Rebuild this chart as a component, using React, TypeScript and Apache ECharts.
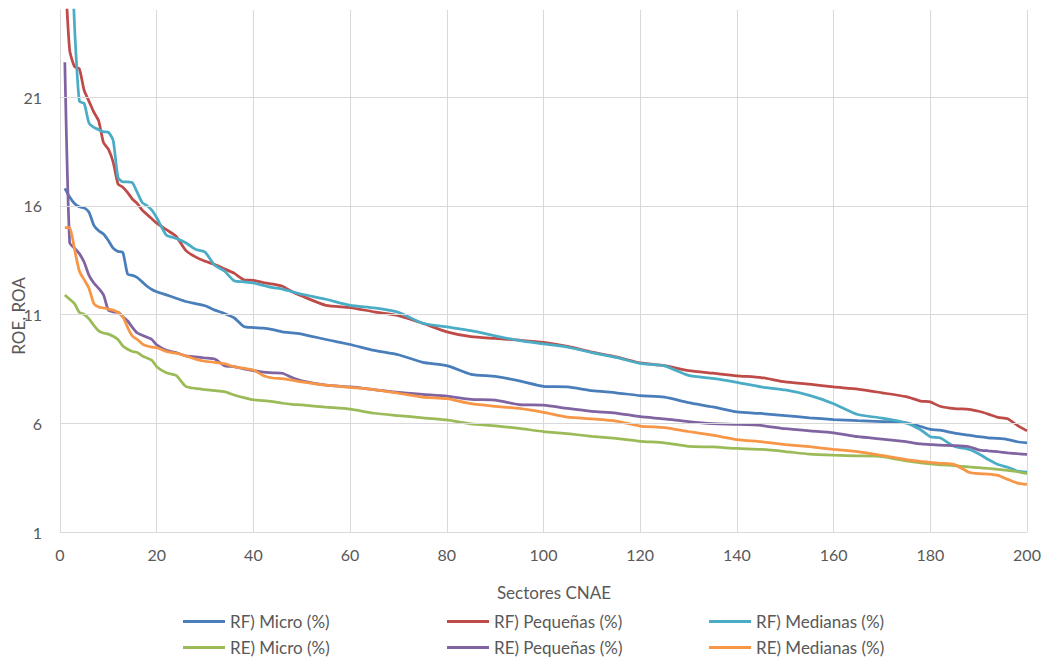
import React, { useEffect, useRef } from "react";
import * as echarts from "echarts";

const sectors = [1,2,3,4,5,6,7,8,9,10,11,12,13,14,15,16,17,18,19,20,22,24,26,28,30,32,34,36,38,40,42,44,46,48,50,55,60,65,70,75,80,85,90,95,100,105,110,115,120,125,130,135,140,145,150,155,160,165,170,175,178,180,182,185,188,190,192,194,196,198,200];

const rfMicro = [16.8,16.4,16.1,15.95,15.9,15.7,15.1,14.85,14.7,14.4,14.05,13.9,13.85,12.85,12.8,12.7,12.5,12.3,12.15,12.05,11.9,11.75,11.6,11.5,11.4,11.2,11.05,10.85,10.45,10.4,10.37,10.3,10.2,10.15,10.1,9.85,9.62,9.35,9.15,8.8,8.65,8.25,8.15,7.95,7.7,7.67,7.5,7.4,7.27,7.2,6.95,6.75,6.52,6.45,6.35,6.25,6.17,6.12,6.08,6.02,5.85,5.72,5.68,5.55,5.45,5.38,5.33,5.3,5.25,5.15,5.1];

const rfPequenas = [27,23.15,22.4,22.3,21.3,20.8,20.3,19.9,18.9,18.6,18.0,17.0,16.85,16.6,16.3,16.1,15.8,15.6,15.4,15.2,14.9,14.6,13.95,13.65,13.45,13.3,13.1,12.9,12.6,12.57,12.47,12.4,12.3,12.05,11.85,11.42,11.32,11.12,10.95,10.6,10.2,9.98,9.9,9.82,9.72,9.53,9.27,9.05,8.78,8.65,8.42,8.3,8.18,8.1,7.9,7.8,7.67,7.57,7.4,7.22,7.02,6.98,6.78,6.67,6.64,6.55,6.42,6.27,6.21,5.9,5.65];

const rfMedianas = [35,30,24.3,20.8,20.7,19.8,19.6,19.5,19.4,19.38,19.0,17.3,17.1,17.1,17.05,16.6,16.15,16.0,15.8,15.45,14.65,14.5,14.3,14.0,13.87,13.26,13.0,12.55,12.5,12.45,12.34,12.24,12.17,12.05,11.93,11.7,11.42,11.3,11.1,10.6,10.43,10.26,10.02,9.8,9.65,9.5,9.25,9.03,8.75,8.64,8.2,8.06,7.88,7.67,7.53,7.28,6.9,6.4,6.24,6.02,5.7,5.38,5.33,4.93,4.8,4.6,4.33,4.1,3.98,3.8,3.75];

const reMicro = [11.9,11.7,11.5,11.1,11.0,10.8,10.5,10.25,10.15,10.1,10.0,9.85,9.55,9.4,9.3,9.25,9.1,9.0,8.9,8.6,8.32,8.2,7.7,7.6,7.55,7.5,7.45,7.3,7.18,7.08,7.04,6.99,6.92,6.87,6.84,6.74,6.65,6.46,6.35,6.25,6.15,5.97,5.88,5.76,5.62,5.52,5.4,5.3,5.17,5.1,4.94,4.91,4.84,4.8,4.7,4.58,4.53,4.5,4.47,4.27,4.18,4.13,4.09,4.05,3.99,3.96,3.92,3.88,3.83,3.77,3.68];

const rePequenas = [22.6,14.3,14.05,13.8,13.4,12.8,12.45,12.2,11.9,11.2,11.12,11.1,10.9,10.7,10.4,10.15,10.05,9.95,9.85,9.6,9.35,9.25,9.1,9.05,9.0,8.95,8.65,8.6,8.5,8.42,8.35,8.32,8.3,8.1,7.95,7.75,7.67,7.55,7.42,7.33,7.25,7.1,7.06,6.86,6.83,6.68,6.55,6.47,6.3,6.2,6.07,5.98,5.95,5.9,5.75,5.65,5.56,5.38,5.27,5.15,5.05,5.02,4.99,4.97,4.92,4.78,4.73,4.69,4.64,4.6,4.57];

const reMedianas = [15.0,15.0,14.0,13.0,12.6,12.2,11.5,11.35,11.3,11.25,11.2,11.1,10.9,10.4,10.0,9.85,9.65,9.55,9.5,9.48,9.3,9.22,9.1,8.95,8.85,8.8,8.74,8.6,8.53,8.45,8.2,8.08,8.05,7.98,7.9,7.75,7.65,7.55,7.38,7.2,7.13,6.9,6.78,6.68,6.5,6.28,6.2,6.1,5.87,5.8,5.62,5.45,5.25,5.15,5.02,4.92,4.8,4.7,4.52,4.33,4.25,4.2,4.16,4.1,3.75,3.68,3.66,3.6,3.42,3.25,3.19];

const yTicks = [6, 11, 16, 21];

const seriesDefs = [
  { name: "RF) Micro (%)", values: rfMicro, color: "#4A7EBB" },
  { name: "RF) Pequeñas (%)", values: rfPequenas, color: "#BE4B48" },
  { name: "RF) Medianas (%)", values: rfMedianas, color: "#4BACC6" },
  { name: "RE) Micro (%)", values: reMicro, color: "#9BBB59" },
  { name: "RE) Pequeñas (%)", values: rePequenas, color: "#8064A2" },
  { name: "RE) Medianas (%)", values: reMedianas, color: "#F79646" },
];

const FONT = "Lato, 'Open Sans', sans-serif";
const TEXT_COLOR = "#595959";
const GRID_COLOR = "#d9d9d9";

const legendCols = [183, 447, 709];
const legendRows = [613, 639];

export default function App() {
  const ref = useRef<HTMLDivElement>(null);
  useEffect(() => {
    if (!ref.current) return;
    const chart = echarts.init(ref.current, undefined, { renderer: "svg" });
    const legends = seriesDefs.map((s, i) => ({
      orient: "horizontal",
      left: legendCols[i % 3],
      top: legendRows[Math.floor(i / 3)],
      itemWidth: 42,
      itemHeight: 3,
      icon: "rect",
      padding: 0,
      data: [s.name],
      textStyle: { fontFamily: FONT, fontSize: 17, color: TEXT_COLOR },
    }));
    chart.setOption({
      animation: false,
      backgroundColor: "#ffffff",
      grid: { left: 60, right: 17, top: 10, bottom: 127 },
      xAxis: {
        type: "value",
        min: 0,
        max: 200,
        interval: 20,
        axisLine: { show: true, onZero: false, lineStyle: { color: GRID_COLOR, width: 1 } },
        axisTick: { show: false },
        axisLabel: { fontFamily: FONT, fontSize: 16, color: TEXT_COLOR, margin: 14 },
        splitLine: { show: true, lineStyle: { color: GRID_COLOR, width: 1 } },
      },
      yAxis: [
        {
          type: "value",
          min: 0,
          max: 24,
          interval: 5,
          axisLine: { show: true, lineStyle: { color: GRID_COLOR, width: 1 } },
          axisTick: { show: false },
          axisLabel: {
            fontFamily: FONT,
            fontSize: 16,
            color: TEXT_COLOR,
            margin: 18,
            showMaxLabel: false,
            formatter: (v: number) => (v >= 24 ? "" : String(v + 1)),
          },
          splitLine: { show: false },
        },
        { type: "value", min: 1, max: 25, show: false },
      ],
      legend: legends,
      graphic: [
        {
          type: "text",
          x: 554,
          y: 592,
          style: { text: "Sectores CNAE", font: `17px ${FONT}`, fill: TEXT_COLOR, textAlign: "center", textVerticalAlign: "middle" },
        },
        {
          type: "text",
          x: 18,
          y: 316,
          rotation: Math.PI / 2,
          style: { text: "ROE, ROA", font: `17px ${FONT}`, fill: TEXT_COLOR, textAlign: "center", textVerticalAlign: "middle" },
        },
      ],
      series: [
        {
          type: "line",
          name: "grid",
          yAxisIndex: 1,
          data: [],
          z: 1,
          silent: true,
          markLine: {
            silent: true,
            symbol: ["none", "none"],
            label: { show: false },
            lineStyle: { color: GRID_COLOR, width: 1, type: "solid" },
            data: yTicks.map((v) => ({ yAxis: v })),
          },
        },
        ...seriesDefs.map((s) => ({
          type: "line",
          name: s.name,
          yAxisIndex: 1,
          data: sectors.map((x, i) => [x, s.values[i]]),
          showSymbol: false,
          symbol: "none",
          smooth: 0.2,
          clip: true,
          color: s.color,
          lineStyle: { color: s.color, width: 2.75 },
          itemStyle: { color: s.color },
        })),
      ],
    });
    return () => chart.dispose();
  }, []);
  return <div ref={ref} style={{ position: "fixed", left: 0, top: 0, width: 1044, height: 659 }} />;
}
